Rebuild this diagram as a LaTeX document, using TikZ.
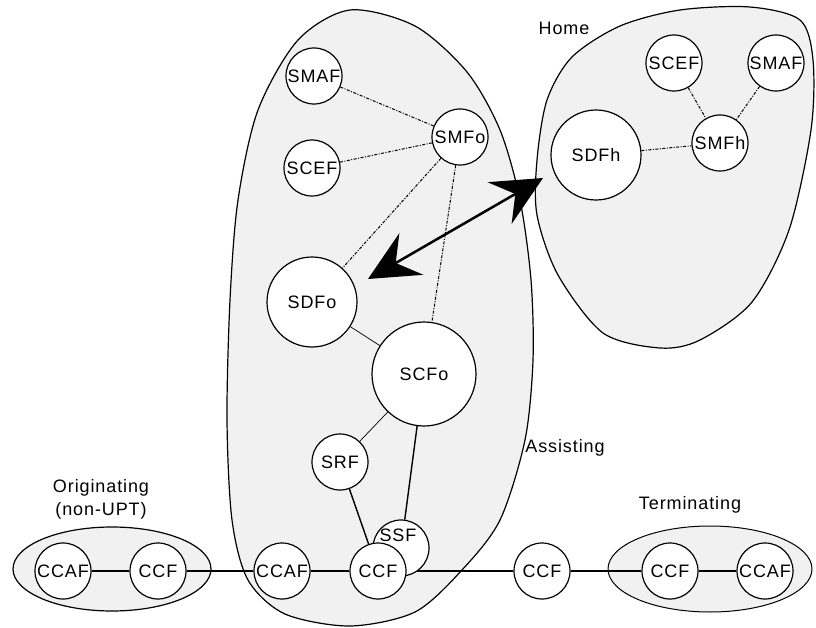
\documentclass[tikz,border=0pt]{standalone}
\usepackage{fontspec}
\setmainfont[LetterSpace=5]{Liberation Sans}
\usepackage{tikz}
\usetikzlibrary{arrows.meta,backgrounds}
\definecolor{areagray}{RGB}{241,241,241}

\begin{document}
\begin{tikzpicture}[x=1pt,y=-1pt,
  fn/.style={circle,draw,fill=white,line width=1.2pt,inner sep=0pt,minimum size=56pt,font=\fontsize{18}{20}\selectfont},
  bigfn/.style={fn,minimum size=90pt},
  area/.style={draw,fill=areagray,line width=1.2pt},
  txt/.style={font=\fontsize{18}{23}\selectfont,inner sep=0pt},
  dotlink/.style={line width=1pt,dash pattern=on 3pt off 1.5pt on 1pt off 1.5pt},
  thinlink/.style={line width=0.7pt},
  link/.style={line width=1.4pt},
  dbl/.style={{Stealth[length=50pt,width=48pt,inset=18pt]}-{Stealth[length=50pt,width=48pt,inset=18pt]},line width=2.5pt}]
\useasboundingbox (0,0) rectangle (816,628);

% areas
\begin{scope}[on background layer]
\draw[area] plot[smooth cycle] coordinates {(350,10) (415,26) (467,72) (500,130) (520,200) (531,280) (533,360) (525,440) (500,520) (462,570) (415,612) (350,626) (285,614) (248,580) (232,520) (227,420) (230,300) (238,200) (258,110) (298,40)};
\draw[area] plot[smooth cycle] coordinates {(620,26) (680,10) (750,7) (800,20) (813,60) (811,130) (789,230) (752,302) (700,340) (660,348) (603,333) (558,275) (537,215) (537,160) (547,100) (572,57)};
\draw[area] (112,569) ellipse [x radius=99, y radius=42];
\draw[area,line width=1pt] (710,569) ellipse [x radius=102, y radius=43];
\end{scope}

\node[txt] (home) at (564,28) {Home};
\node[txt] (assisting) at (565,448) {Assisting};
\node[txt,align=center] (originating) at (101,499) {Originating\\(non-UPT)};
\node[txt] (terminating) at (690,505) {Terminating};

% assisting network
\node[fn] (smafo) at (314,76) {SMAF};
\node[fn] (scefo) at (312,168) {SCEF};
\node[fn] (smfo) at (460,137) {SMFo};
\node[bigfn] (sdfo) at (312,302) {SDFo};
\node[fn,minimum size=104pt] (scfo) at (424,374) {SCFo};
\node[fn] (srf) at (340,462) {SRF};
\node[fn] (ssf) at (401,548) {};
\node[txt] (ssftext) at (398,535) {SSF};
\node[fn] (ccafa) at (282,571) {CCAF};
\node[fn] (ccfa) at (378,571) {CCF};

% home network
\node[fn] (scefh) at (674,63) {SCEF};
\node[fn] (smafh) at (776,63) {SMAF};
\node[fn] (smfh) at (720,143) {SMFh};
\node[bigfn] (sdfh) at (596,155) {SDFh};

% call chain
\node[fn] (ccafo) at (63,571) {CCAF};
\node[fn] (ccfo) at (158,571) {CCF};
\node[fn] (ccfm) at (542,571) {CCF};
\node[fn] (ccft) at (670,571) {CCF};
\node[fn] (ccaft) at (765,571) {CCAF};

\begin{scope}[on background layer]
\draw[dotlink] (smafo) -- (smfo);
\draw[dotlink] (scefo) -- (smfo);
\draw[dotlink] (smfo) -- (sdfo);
\draw[dotlink] (smfo) -- (scfo);
\draw[thinlink] (sdfo) -- (scfo);
\draw[thinlink] (scfo) -- (srf);
\draw[link] (srf) -- (ccfa);
\draw[link] (scfo) -- (ssf);
\draw[dotlink] (scefh) -- (smfh);
\draw[dotlink] (smafh) -- (smfh);
\draw[dotlink] (sdfh) -- (smfh);
\draw[link] (ccafo) -- (ccfo) -- (ccafa) -- (ccfa) -- (ccfm) -- (ccft) -- (ccaft);
\end{scope}

\coordinate (tipo) at (368,279);
\coordinate (tiph) at (543,178);
\draw[dbl] (tipo) -- (tiph);
\end{tikzpicture}
\end{document}
